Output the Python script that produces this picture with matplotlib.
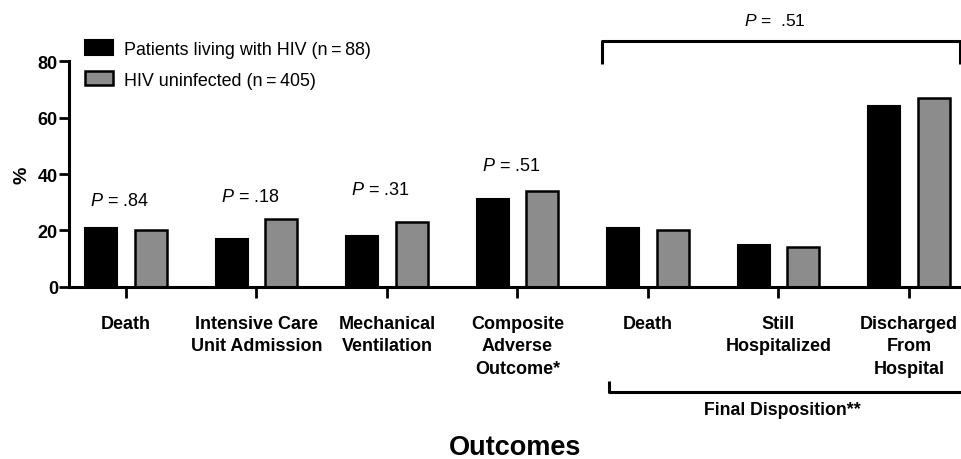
import matplotlib
matplotlib.use("Agg")
import matplotlib.pyplot as plt
import numpy as np

# data
categories = ["Death", "Intensive Care\nUnit Admission", "Mechanical\nVentilation",
              "Composite\nAdverse\nOutcome*", "Death", "Still\nHospitalized",
              "Discharged\nFrom\nHospital"]
hiv_pos = [21, 17, 18, 31, 21, 15, 64]
hiv_neg = [20, 24, 23, 34, 20, 14, 67]
series_labels = ["Patients living with HIV (n\u2009=\u200988)", "HIV uninfected (n\u2009=\u2009405)"]
p_labels = ["$\\mathit{P}$ = .84", "$\\mathit{P}$ = .18", "$\\mathit{P}$ = .31", "$\\mathit{P}$ = .51"]
p_heights = [30.5, 32, 34.5, 43]
p_final = "$\\mathit{P}$ =  .51"

plt.rcParams["font.family"] = ["Liberation Sans", "DejaVu Sans"]
plt.rcParams["mathtext.fontset"] = "custom"
plt.rcParams["mathtext.it"] = "Liberation Sans:italic"
plt.rcParams["mathtext.rm"] = "Liberation Sans"

fig = plt.figure(figsize=(9.61, 4.6), dpi=100)
ax = fig.add_axes([0.0718, 0.374, 1.0 - 0.0718, 0.491])

x = np.arange(len(categories))
w = 0.245
off = 0.19
ax.bar(x - off, hiv_pos, w, color="black", edgecolor="black", lw=1.5, label=series_labels[0])
ax.bar(x + off, hiv_neg, w, color="#8c8c8c", edgecolor="black", lw=1.8, label=series_labels[1])

ax.set_xlim(-0.437, 6.40)
ax.set_ylim(0, 80)
ax.set_yticks([0, 20, 40, 60, 80])
ax.set_xticks(x)
ax.set_xticklabels(categories, fontsize=13, fontweight="bold", va="top", linespacing=1.42)
for lab in ax.get_yticklabels():
    lab.set_fontweight("bold")
ax.tick_params(axis="y", labelsize=13, width=2, length=7, pad=1)
ax.tick_params(axis="x", width=2, length=8, pad=12)
for s in ["top", "right"]:
    ax.spines[s].set_visible(False)
for s in ["left", "bottom"]:
    ax.spines[s].set_linewidth(2.2)

ax.set_ylabel("%", fontsize=14, fontweight="bold", labelpad=5)
ax.set_xlabel("Outcomes", fontsize=19.5, fontweight="bold", labelpad=41)

# P values above first four groups
for i in range(4):
    ax.text(x[i] - 0.05, p_heights[i], p_labels[i], fontsize=13, ha="center", va="center")

# bracket over final disposition
kw = dict(color="black", lw=2.2, clip_on=False, solid_capstyle="butt")
ax.plot([3.65, 3.65, 6.39, 6.39], [78.8, 87, 87, 78.8], **kw)
ax.text(4.97, 94.7, p_final, fontsize=12.5, ha="center", va="center")

# bracket under final disposition labels
ax.plot([3.70, 3.70, 6.45], [-33.2, -37.1, -37.1], **kw)
ax.text(5.03, -43.5, "Final Disposition**", fontsize=12.8, fontweight="bold",
        ha="center", va="center")

ax.legend(loc="upper left", bbox_to_anchor=(0.088, 0.91), bbox_transform=fig.transFigure,
          frameon=False, fontsize=12.9, handlelength=1.6, handleheight=0.85,
          handletextpad=0.6, labelspacing=0.75, borderaxespad=0, borderpad=0)

fig.savefig("out.png", dpi=100)
